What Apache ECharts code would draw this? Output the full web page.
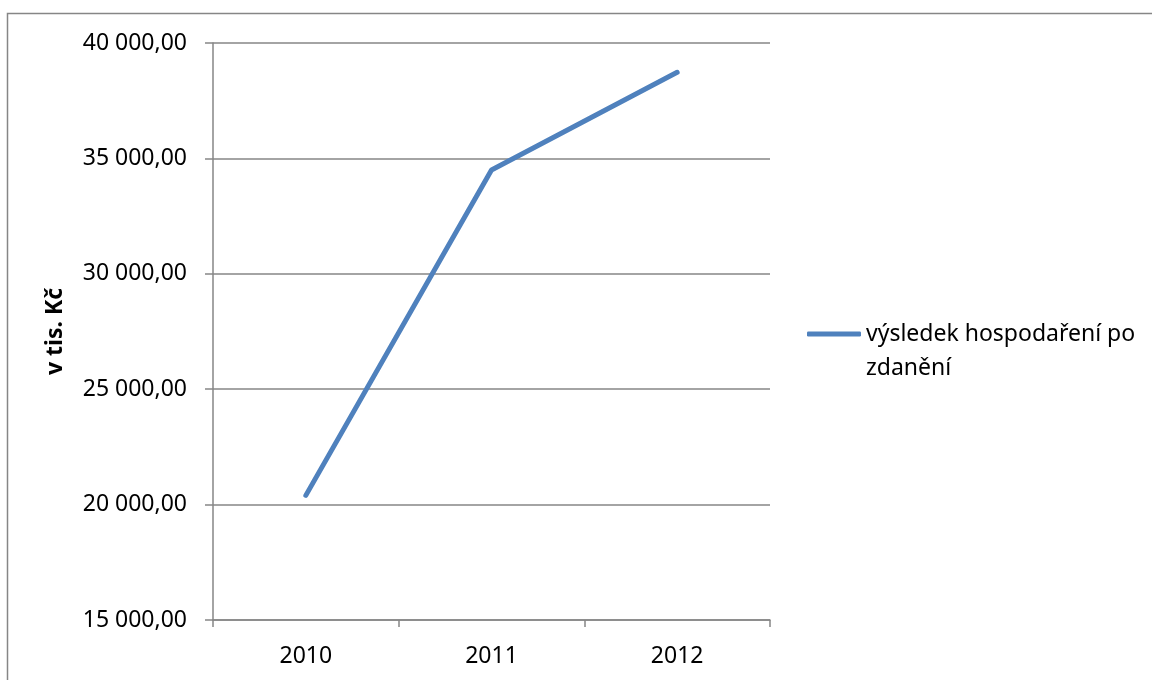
<!DOCTYPE html>
<html>
<head>
<meta charset="utf-8">
<script src="https://cdn.jsdelivr.net/npm/echarts@6/dist/echarts.min.js"></script>
<style>
html,body{margin:0;padding:0;background:#fff;}
#chart{width:1152px;height:680px;}
</style>
</head>
<body>
<div id="chart"></div>
<script>
const categories = ['2010', '2011', '2012'];
const seriesName = 'výsledek hospodaření po zdanění';
const values = [20400, 34500, 38730];
const yTicks = { min: 15000, max: 40000, interval: 5000 };
const yAxisTitle = 'v tis. Kč';

const FONT = '"Noto Sans", sans-serif';
const GRAY = '#868686';

function fmt(v) {
  const s = Math.round(v).toString().replace(/\B(?=(\d{3})+(?!\d))/g, ' ');
  return s + ',00';
}

const chart = echarts.init(document.getElementById('chart'));
chart.setOption({
  animation: false,
  backgroundColor: '#fff',
  textStyle: { fontFamily: FONT },
  graphic: [{
    type: 'rect',
    shape: { x: 7.5, y: 13.5, width: 1200, height: 700 },
    style: { fill: 'none', stroke: GRAY, lineWidth: 1.5 },
    silent: true
  }],
  grid: { left: 213, top: 43, width: 557, height: 577, containLabel: false },
  legend: {
    show: true,
    left: 802,
    top: 278,
    orient: 'vertical',
    icon: 'roundRect',
    itemWidth: 54,
    itemHeight: 5,
    itemGap: 0,
    formatter: function (name) {
      const i = name.lastIndexOf(' ');
      return ' \n' + name.slice(0, i) + '\n' + name.slice(i + 1);
    },
    textStyle: {
      fontFamily: FONT, fontSize: 23, color: '#000', lineHeight: 34
    },
    data: [seriesName]
  },
  xAxis: {
    type: 'category',
    data: categories,
    boundaryGap: true,
    axisLine: { show: true, lineStyle: { color: GRAY, width: 1.5 } },
    axisTick: { show: true, inside: false, length: 7, alignWithLabel: false, lineStyle: { color: GRAY, width: 1.5 } },
    axisLabel: { color: '#000', fontSize: 23, fontFamily: FONT, margin: 25 },
    splitLine: { show: false }
  },
  yAxis: {
    type: 'value',
    min: yTicks.min,
    max: yTicks.max,
    interval: yTicks.interval,
    name: yAxisTitle,
    nameLocation: 'middle',
    nameGap: 146,
    nameRotate: 90,
    nameTextStyle: { color: '#000', fontSize: 23, fontWeight: 'bold', fontFamily: FONT },
    axisLine: { show: true, lineStyle: { color: GRAY, width: 1.5 } },
    axisTick: { show: true, length: 8, lineStyle: { color: GRAY, width: 1.5 } },
    axisLabel: { color: '#000', fontSize: 23, fontFamily: FONT, margin: 26, formatter: fmt },
    splitLine: { show: true, lineStyle: { color: GRAY, width: 1.5 } }
  },
  series: [{
    name: seriesName,
    type: 'line',
    data: values,
    symbol: 'none',
    lineStyle: { color: '#4f81bd', width: 5, cap: 'round', join: 'round' },
    itemStyle: { color: '#4f81bd' }
  }]
});
</script>
</body>
</html>
